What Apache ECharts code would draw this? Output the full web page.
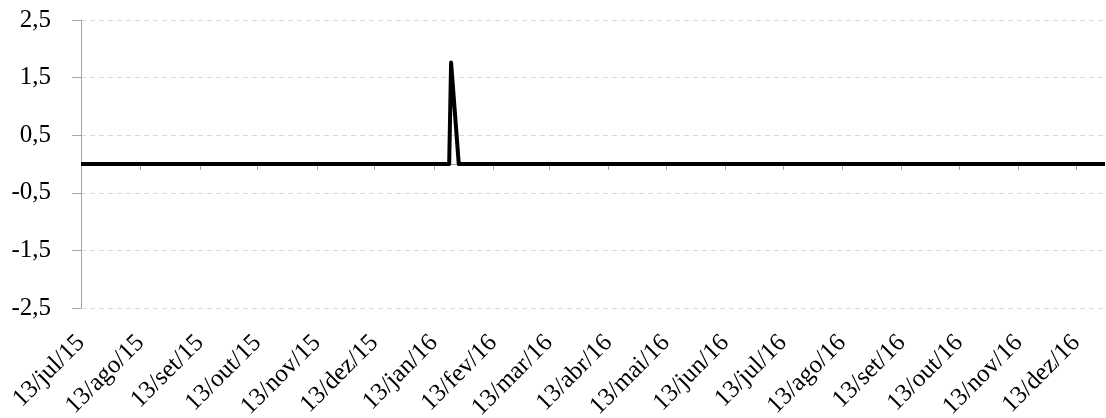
<!DOCTYPE html>
<html>
<head>
<meta charset="utf-8">
<script src="https://cdn.jsdelivr.net/npm/echarts@6/dist/echarts.min.js"></script>
<style>
html,body{margin:0;padding:0;background:#fff;}
#chart{width:1106px;height:418px;}
</style>
</head>
<body>
<div id="chart"></div>
<script>
// Data points (date, value)
const pointDates = ['2015-07-13', '2016-01-21', '2016-01-22', '2016-01-26', '2016-12-28'];
const pointValues = [0, 0, 1.76, 0, 0];

// X-axis tick dates and labels
const tickDates = ['2015-07-13','2015-08-13','2015-09-13','2015-10-13','2015-11-13','2015-12-13',
  '2016-01-13','2016-02-13','2016-03-13','2016-04-13','2016-05-13','2016-06-13',
  '2016-07-13','2016-08-13','2016-09-13','2016-10-13','2016-11-13','2016-12-13'];
const tickLabels = ['13/jul/15','13/ago/15','13/set/15','13/out/15','13/nov/15','13/dez/15',
  '13/jan/16','13/fev/16','13/mar/16','13/abr/16','13/mai/16','13/jun/16',
  '13/jul/16','13/ago/16','13/set/16','13/out/16','13/nov/16','13/dez/16'];

// Y-axis tick labels (from bottom to top)
const yTickLabels = ['-2,5','-1,5','-0,5','0,5','1,5','2,5'];
const yMin = -2.5, yMax = 2.5;
const xMinDate = '2015-07-13', xMaxDate = '2016-12-28';

const DAY = 86400000;
// day number since epoch (UTC)
function dn(s){ const p = s.split('-').map(Number); return Date.UTC(p[0], p[1]-1, p[2]) / DAY; }
const tickDn = tickDates.map(dn);
const seriesData = pointDates.map((d, i) => [dn(d), pointValues[i]]);

const FONT = 'Liberation Serif';
const chart = echarts.init(document.getElementById('chart'), null, {renderer: 'canvas'});
chart.setOption({
  animation: false,
  backgroundColor: '#ffffff',
  grid: {left: 81, right: 1, top: 20, bottom: 110, containLabel: false, outerBoundsMode: 'none'},
  xAxis: [{
    type: 'value',
    min: dn(xMinDate), max: dn(xMaxDate),
    position: 'bottom',
    axisLine: {show: true, onZero: true, onZeroAxisIndex: 0, lineStyle: {color: '#a6a6a6', width: 1}},
    axisTick: {show: true, customValues: tickDn, length: 6, inside: false, lineStyle: {color: '#a6a6a6', width: 1}},
    axisLabel: {show: false},
    splitLine: {show: false}
  }, {
    type: 'value',
    min: dn(xMinDate), max: dn(xMaxDate),
    position: 'bottom',
    axisLine: {show: false, onZero: false},
    axisTick: {show: false},
    splitLine: {show: false},
    axisLabel: {
      show: true,
      customValues: tickDn,
      rotate: 45,
      margin: 31,
      color: '#000',
      fontFamily: FONT,
      fontSize: 25,
      hideOverlap: false,
      showMinLabel: true,
      showMaxLabel: true,
      formatter: function (v) {
        const i = tickDn.indexOf(v);
        return i >= 0 ? tickLabels[i] : '';
      }
    }
  }],
  yAxis: [{
    type: 'value',
    min: yMin, max: yMax,
    show: false,
    splitLine: {show: false}
  }, {
    type: 'value',
    min: 0, max: yTickLabels.length - 1, interval: 1,
    position: 'left',
    axisLine: {show: true, onZero: false, lineStyle: {color: '#a6a6a6', width: 1}},
    axisTick: {show: true, length: 9, inside: false, lineStyle: {color: '#a6a6a6', width: 1}},
    axisLabel: {
      show: true, margin: 30, color: '#000', fontFamily: FONT, fontSize: 25,
      formatter: function (v) { return yTickLabels[Math.round(v)]; }
    },
    splitLine: {show: true, lineStyle: {color: '#d9d9d9', width: 1, type: [5, 4]}}
  }],
  series: [{
    type: 'line',
    xAxisIndex: 0,
    yAxisIndex: 0,
    data: seriesData,
    showSymbol: false,
    symbol: 'none',
    lineStyle: {color: '#000', width: 4, join: 'round', cap: 'butt'},
    z: 5
  }]
});
</script>
</body>
</html>
